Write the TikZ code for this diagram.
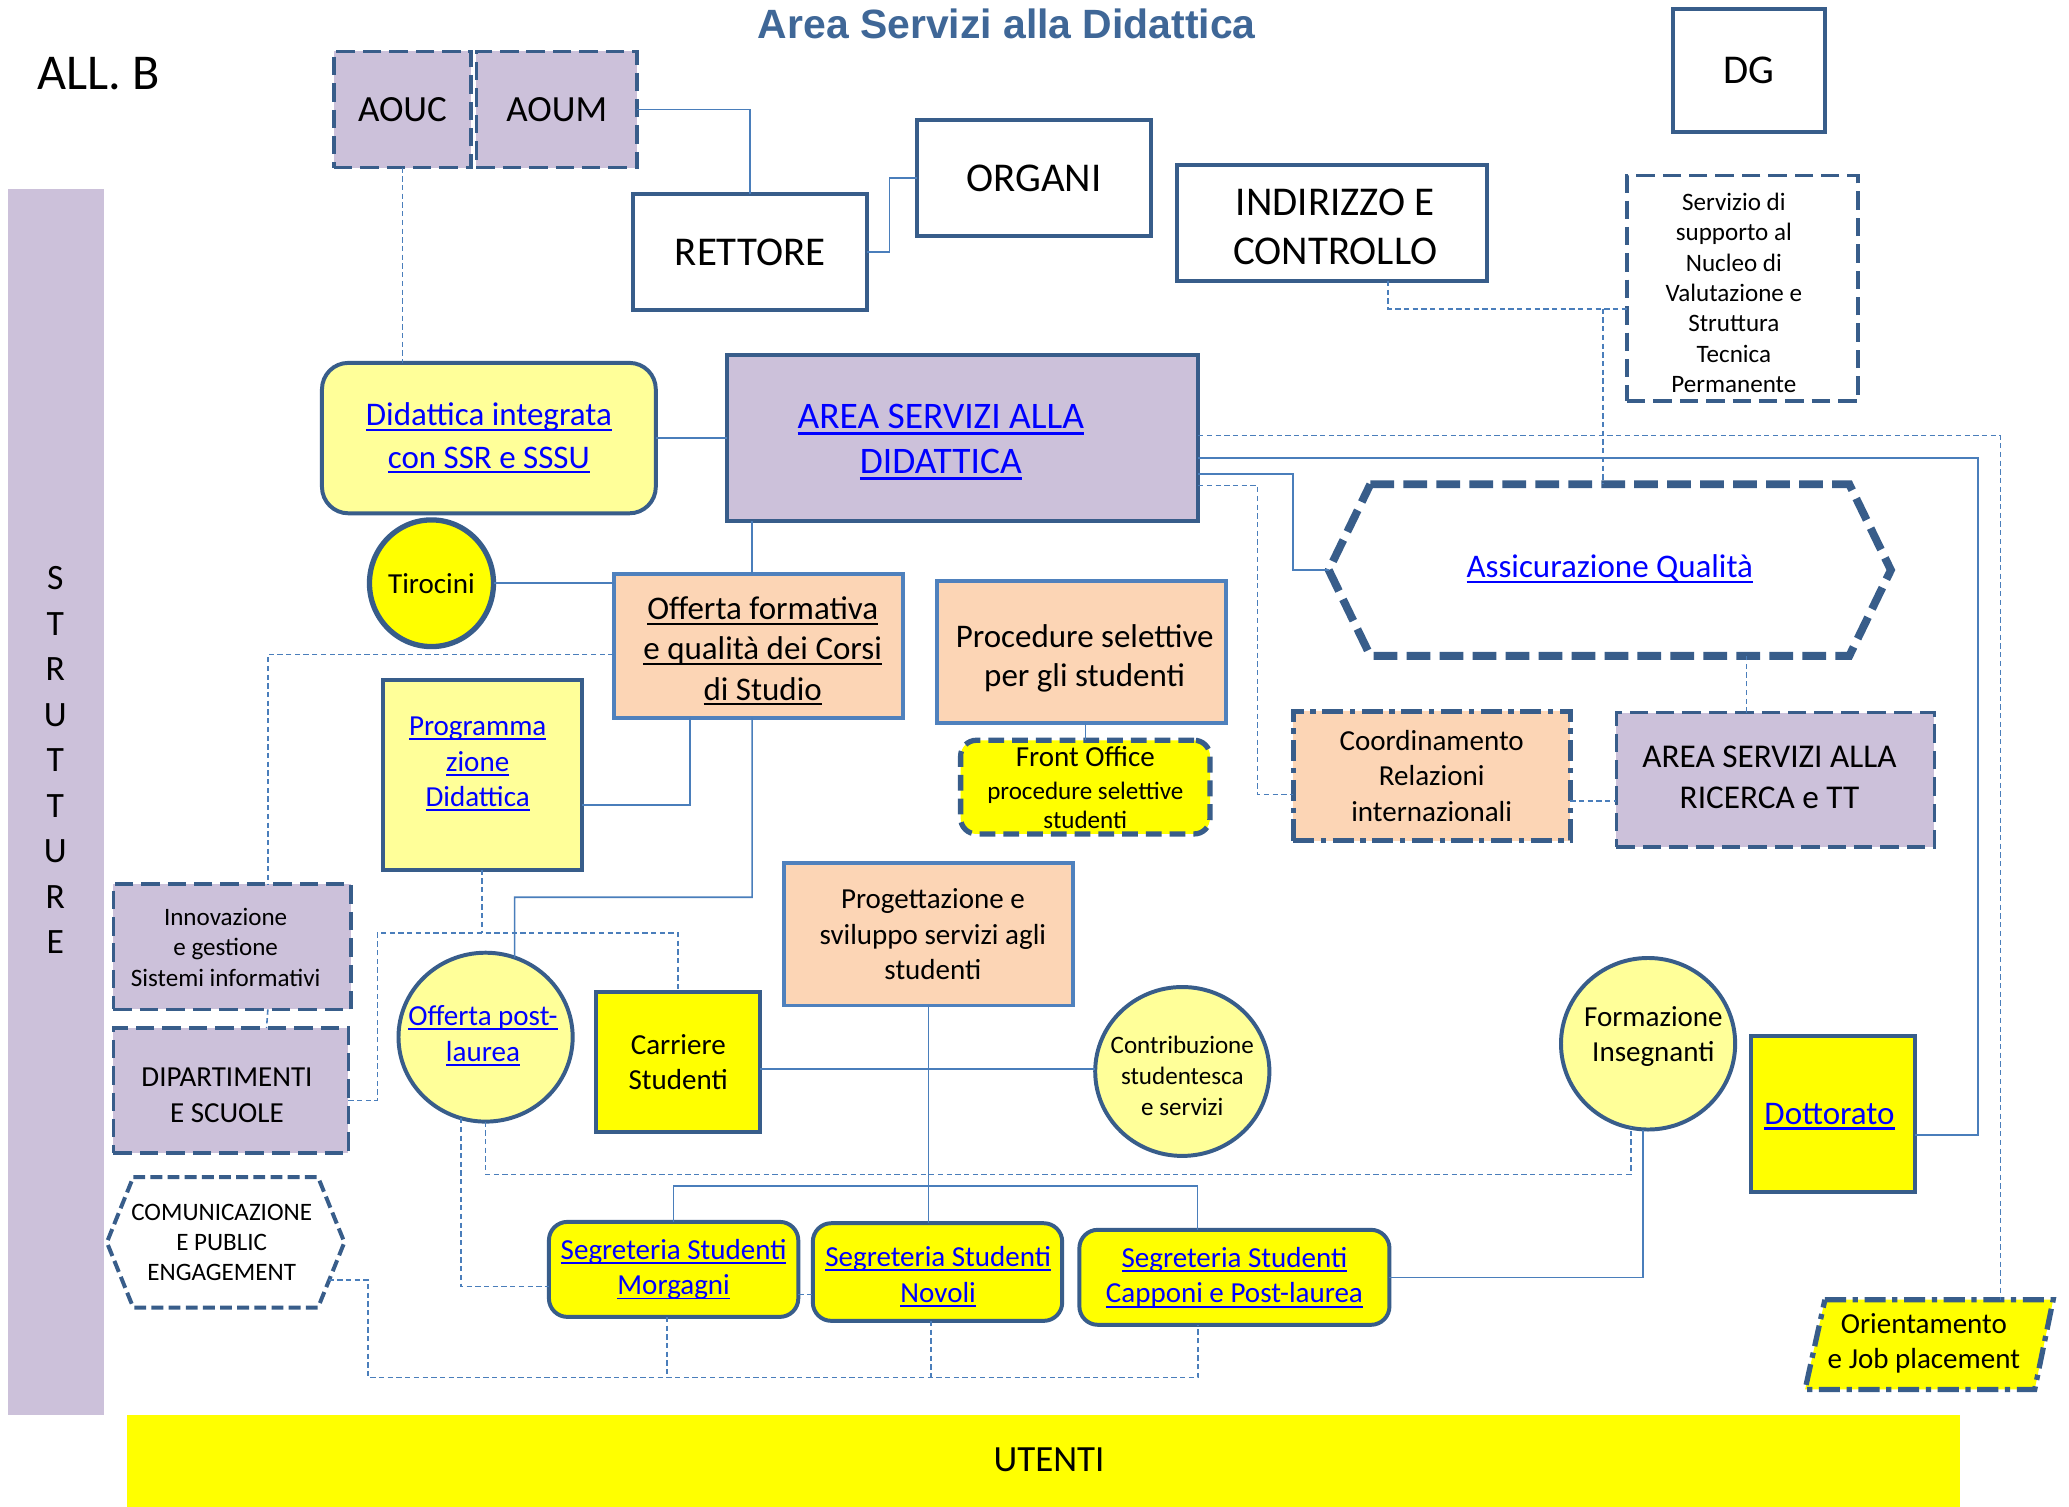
\documentclass[tikz,border=0pt]{standalone}
\usepackage{fontspec}
\setmainfont{Carlito}
\newfontfamily\titlefont{Liberation Sans}
\usetikzlibrary{calc,shapes.geometric}

\definecolor{lav}{HTML}{CCC1DA}
\definecolor{dkb}{HTML}{385D8A}
\definecolor{medb}{HTML}{4F81BD}
\definecolor{cnb}{HTML}{4A7EBB}
\definecolor{ltyel}{HTML}{FFFF99}
\definecolor{yel}{HTML}{FFFF00}
\definecolor{peach}{HTML}{FCD5B5}
\definecolor{lnkb}{HTML}{0000FF}
\definecolor{ttl}{HTML}{3F6797}

\newcommand\fsz[2]{\fontsize{#1}{#2}\selectfont}
\newcommand\undl[1]{\setbox0\hbox{#1}\rlap{\rule[-0.16em]{\wd0}{0.065em}}\box0}
\newcommand\lk[1]{\textcolor{lnkb}{\undl{#1}}}

\tikzset{
  every node/.style={inner sep=0pt, outer sep=0pt, align=center},
  dk/.style={draw=dkb, line width=1.5pt},
  plainbox/.style={dk, fill=white},
  lavdash/.style={draw=dkb, line width=1.4pt, dash pattern=on 7pt off 3pt, fill=lav},
  peachbox/.style={draw=medb, line width=1.5pt, fill=peach},
  conn/.style={draw=cnb, line width=0.6pt},
  dconn/.style={conn, dash pattern=on 2pt off 1.3pt},
  fbig/.style={font=\fsz{15.5pt}{18.5pt}},
  fmid/.style={font=\fsz{12.5pt}{15.5pt}},
  fmed/.style={font=\fsz{11pt}{13.5pt}},
  fsml/.style={font=\fsz{9.5pt}{11.5pt}},
  dashdot/.style={draw=dkb, line width=2pt, dash pattern=on 8pt off 2.5pt on 2pt off 2.5pt},
}

\begin{document}
\begin{tikzpicture}[x=0.5pt, y=-0.5pt]
\fill[white] (0,0) rectangle (1568,1142);
\useasboundingbox (0,0) rectangle (1568,1142);

% side bands
\node[fill=lav, minimum width=36.5pt, minimum height=464.5pt] (strutt) at (42.5,607.5) {};
\node[font=\fsz{13.5pt}{17.25pt}] (strtxt) at (42,576) {S\\T\\R\\U\\T\\T\\U\\R\\E};
\node[fill=yel, minimum width=694.5pt, minimum height=35pt] (utenti) at (790.5,1107) {};
\node[font=\fsz{14pt}{17pt}] (utxt) at (795,1106) {UTENTI};

% headings
\node[font=\titlefont\bfseries\fontsize{15.5pt}{18pt}\selectfont, text=ttl] (title) at (763,18) {Area Servizi alla Didattica};
\node[font=\fsz{19pt}{22pt}] (allb) at (75,56) {ALL. B};

% top row
\node[lavdash, minimum width=52pt, minimum height=44pt, font=\fsz{14pt}{17pt}] (aouc) at (305,83) {AOUC};
\node[lavdash, minimum width=61pt, minimum height=44pt, font=\fsz{14pt}{17pt}] (aoum) at (422,83) {AOUM};
\node[plainbox, fbig, minimum width=88.5pt, minimum height=44pt] (rett) at (568.5,191) {RETTORE};
\node[plainbox, fbig, minimum width=88.5pt, minimum height=44pt] (organi) at (783.5,135) {ORGANI};
\node[plainbox, minimum width=117.5pt, minimum height=44pt] (indir) at (1009.5,169) {};
\node[fbig] (indirtxt) at (1012,172) {INDIRIZZO E\\CONTROLLO};
\node[plainbox, fbig, minimum width=57.5pt, minimum height=46.5pt] (dg) at (1325.5,53.5) {DG};
\node[draw=dkb, line width=1.4pt, dash pattern=on 7pt off 3pt, fill=white, minimum width=87.5pt, minimum height=85.5pt] (serv) at (1320.5,218.5) {};
\node[fsml] (servtxt) at (1314,222) {Servizio di\\supporto al\\Nucleo di\\Valutazione e\\Struttura\\Tecnica\\Permanente};

% central area
\node[dk, fill=ltyel, rounded corners=10pt, minimum width=126.5pt, minimum height=57pt, font=\fsz{12.5pt}{16pt}] (didint) at (370.5,332)
  {\lk{Didattica integrata}\\\lk{con SSR e SSSU}};
\node[dk, fill=lav, minimum width=178.5pt, minimum height=63pt] (area) at (729.5,332) {};
\node[font=\fsz{14.2pt}{17pt}] (areatxt) at (713,335) {\lk{AREA SERVIZI ALLA}\\\lk{DIDATTICA}};

\node[draw=dkb, line width=2pt, fill=yel, ellipse, minimum width=47pt, minimum height=48pt] (tir) at (327,442) {};
\node[fmed] (tirtxt) at (327,442) {Tirocini};

\node[peachbox, minimum width=109.5pt, minimum height=54.5pt] (off) at (574.5,489.5) {};
\node[font=\fsz{12.5pt}{15.25pt}] (offtxt) at (578,493.5) {\undl{Offerta formativa}\\\undl{e qualità dei Corsi}\\\undl{di Studio}};
\node[peachbox, minimum width=109.5pt, minimum height=54pt] (proc) at (819.5,494) {};
\node[font=\fsz{12.5pt}{15pt}] (proctxt) at (822,499) {Procedure selettive\\per gli studenti};
\node[draw=dkb, line width=2pt, dash pattern=on 6pt off 3pt, fill=yel, rounded corners=6pt, minimum width=94.5pt, minimum height=35.5pt, font=\fsz{9.5pt}{11pt}] (fo) at (822.5,596.5)
  {{\fsz{11pt}{13pt}Front Office}\\[1.5pt]procedure selettive\\studenti};

\node[dk, fill=ltyel, minimum width=75.5pt, minimum height=72pt] (prog) at (365.5,587) {};
\node[fmed] (progtxt) at (362,579) {\lk{Programma}\\\lk{zione}\\\lk{Didattica}};

\node[lavdash, minimum width=90pt, minimum height=47.5pt] (innov) at (176,717.5) {};
\node[fsml] (innovtxt) at (171,718) {Innovazione\\e gestione\\Sistemi informativi};
\node[lavdash, minimum width=89pt, minimum height=47.5pt] (dip) at (175,826.5) {};
\node[fmed] (diptxt) at (172,830) {DIPARTIMENTI\\E SCUOLE};

% communication hexagon
\coordinate (commc) at (171,941.5);
\draw[draw=dkb, line width=1.5pt, dash pattern=on 4.5pt off 2pt, fill=white]
  ($(commc)+(-70,-49.5)$) -- ($(commc)+(70,-49.5)$) -- ($(commc)+(90,0)$) -- ($(commc)+(70,49.5)$)
  -- ($(commc)+(-70,49.5)$) -- ($(commc)+(-90,0)$) -- cycle;
\node[fsml, minimum width=90pt, minimum height=49.5pt] (comm) at (commc) {};
\node[fsml] (commtxt) at (168,941.5) {COMUNICAZIONE\\E PUBLIC\\ENGAGEMENT};

\node[draw=dkb, line width=1.5pt, fill=ltyel, ellipse, minimum width=66pt, minimum height=64pt] (opl) at (368,786) {};
\node[fmed] (opltxt) at (366,785) {\lk{Offerta post-}\\\lk{laurea}};

\node[dk, fill=yel, minimum width=62pt, minimum height=53pt, fmed] (carr) at (514,805) {Carriere\\Studenti};
\node[peachbox, minimum width=109.5pt, minimum height=54pt, fmed] (prg) at (703.5,708) {};
\node[fmed] (prgtxt) at (707,708) {Progettazione e\\sviluppo servizi agli\\studenti};

\node[draw=dkb, line width=1.5pt, fill=ltyel, ellipse, minimum width=66pt, minimum height=64pt] (contr) at (896,812) {};
\node[font=\fsz{9.5pt}{11.75pt}] (contrtxt) at (896,815) {Contribuzione\\studentesca\\e servizi};

\node[draw=dkb, line width=1.5pt, fill=ltyel, ellipse, minimum width=66pt, minimum height=65pt] (form) at (1249,791) {};
\node[fmed] (formtxt) at (1253,785.5) {Formazione\\Insegnanti};

\node[dk, fill=yel, minimum width=62pt, minimum height=59pt] (dott) at (1389,844) {};
\node[font=\fsz{12.5pt}{15pt}] (dotttxt) at (1386.5,846) {\lk{Dottorato}};

% quality hexagon
\coordinate (aqc) at (1220,432);
\draw[draw=dkb, line width=3pt, dash pattern=on 9pt off 3.5pt, fill=white]
  ($(aqc)+(-181.5,-65)$) -- ($(aqc)+(181.5,-65)$) -- ($(aqc)+(213,0)$) -- ($(aqc)+(181.5,65)$)
  -- ($(aqc)+(-181.5,65)$) -- ($(aqc)+(-213,0)$) -- cycle;
\node[fmid, minimum width=213pt, minimum height=65pt] (aq) at (aqc) {\raisebox{3pt}{\lk{Assicurazione Qualità}}};

\node[dashdot, fill=peach, minimum width=105pt, minimum height=49pt, fmed] (coord) at (1085,588) {Coordinamento\\Relazioni\\internazionali};
\node[lavdash, minimum width=120.5pt, minimum height=51pt] (ric) at (1345.5,591) {};
\node[font=\fsz{12.6pt}{15.5pt}] (rictxt) at (1341,589) {AREA SERVIZI ALLA\\RICERCA e TT};

% orientation parallelogram
\coordinate (oric) at (1462,1019);
\draw[dashdot, fill=yel]
  ($(oric)+(-79,-34)$) -- ($(oric)+(94,-34)$) -- ($(oric)+(80,34)$) -- ($(oric)+(-94,34)$) -- cycle;
\node[minimum width=94pt, minimum height=34pt] (ori) at (oric) {};
\node[fmed] (oritxt) at (1458,1018) {Orientamento\\e Job placement};

% student offices
\node[dk, fill=yel, rounded corners=7pt, minimum width=94.5pt, minimum height=36pt, fmed] (mor) at (510.5,962) {\lk{Segreteria Studenti}\\\lk{Morgagni}};
\node[dk, fill=yel, rounded corners=7pt, minimum width=94.5pt, minimum height=37pt] (nov) at (710.5,964) {};
\node[fmed] (novtxt) at (711,967.5) {\lk{Segreteria Studenti}\\\lk{Novoli}};
\node[dk, fill=yel, rounded corners=7pt, minimum width=117.5pt, minimum height=36pt, fmed] (cap) at (935.5,968) {\lk{Segreteria Studenti}\\\lk{Capponi e Post-laurea}};

% ---- connectors ----
\draw[conn] (aoum.east) -| (rett.north);
\draw[conn] (rett.east) -- ++(17,0) |- (organi.west);
\draw[dconn] (aouc.south) -- (aouc.south |- didint.north);

\coordinate (jq) at (1215,234);
\draw[dconn] ($(indir.south)+(42.5,0)$) |- (jq) -- (jq -| serv.west);
\draw[dconn] (jq) -- (jq |- aq.north);

\draw[conn] (didint.east) -- (area.west);
\draw[conn] ($(area.south west)+(19,0)$) -- ($(off.north west)+(105,0)$);
\draw[conn] (tir.east) -- (tir.east -| off.west);
\draw[dconn] ($(off.west)+(0,6.5)$) -| ($(innov.north)+(27,0)$);
\draw[conn] ($(off.south west)+(58,0)$) |- ($(prog.east)+(0,23)$);
\coordinate (kp) at (390,680);
\draw[conn] ($(off.south west)+(105,0)$) |- (kp) -- (opl.70);

\coordinate (jd) at (286,707);
\draw[dconn] (prog.south) -- (prog.south |- jd);
\draw[dconn] ($(dip.east)+(0,7.5)$) -| (jd) -| (carr.north);
\draw[dconn] ($(innov.south)+(27,0)$) -- ($(dip.north)+(27,0)$);

\draw[conn] (prg.south) -- (prg.south |- nov.north);
\draw[conn] (mor.north) -- ++(0,-27) -| ($(cap.north)+(-28,0)$);
\coordinate (ce) at ($(carr.east)+(0,5)$);
\draw[conn] (ce) -- (ce -| contr.west);

\draw[dconn] (opl.south) -- ++(0,40) -| ($(form.south)+(-13,-2)$);
\draw[dconn] (opl.-107) |- ($(mor.west)+(0,13)$);
\coordinate (mn) at ($(mor.east)+(0,19)$);
\draw[dconn] (mn) -- (mn -| nov.west);

\coordinate (cs) at ($(commc)+(78,28.5)$);
\coordinate (bl) at (279,1044);
\draw[dconn] (cs) -| (bl) -| ($(cap.south)+(-27.5,0)$);
\draw[dconn] ($(mor.south)+(-5,0)$) -- ++(0,46);
\draw[dconn] ($(nov.south)+(-5,0)$) -- ++(0,43);

\draw[conn] ($(form.south)+(-4,0)$) |- (cap.east);
\draw[conn] ($(dott.east)+(0,16)$) -- ++(48,0) |- ($(area.east)+(0,15)$);
\draw[dconn] ($(area.east)+(0,-2)$) -| ($(ori.north)+(54,0)$);
\draw[conn] ($(area.east)+(0,27)$) -- ++(72,0) |- (aq.west);
\draw[dconn] ($(area.east)+(0,36)$) -- ++(45,0) |- ($(coord.west)+(0,14)$);
\draw[dconn] ($(ric.north)+(-22,0)$) -- ++(0,-43);
\draw[dconn] ($(coord.east)+(0,19)$) -- ++(35,0);
\draw[conn] (fo.north) -- ++(0,-13);
\end{tikzpicture}
\end{document}
